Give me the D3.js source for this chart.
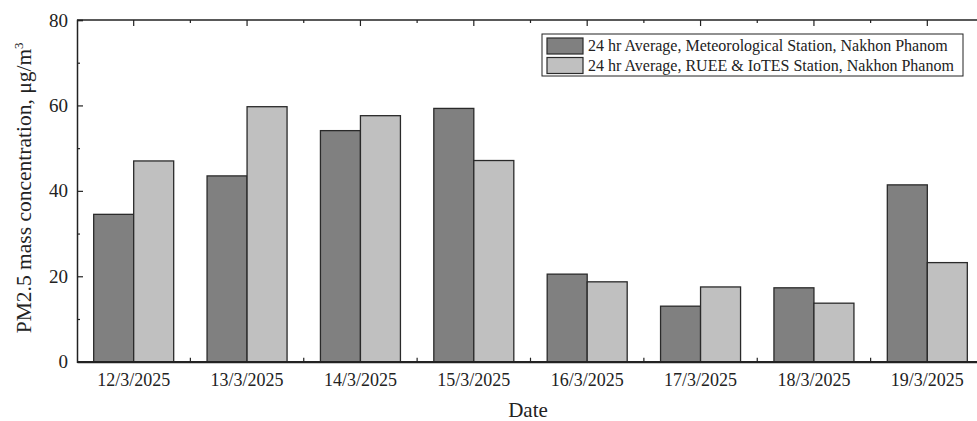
<!DOCTYPE html>
<meta charset="utf-8" />
<script src="https://d3js.org/d3.v7.min.js"></script>
<style>
  body { margin: 0; background: #fff; }
  text { font-family: "Liberation Serif", "Times New Roman", serif; fill: #222; }
</style>
<body>
<div id="chart"></div>
<script>
  // data
  const dates = ["12/3/2025", "13/3/2025", "14/3/2025", "15/3/2025",
                 "16/3/2025", "17/3/2025", "18/3/2025", "19/3/2025"];
  const seriesNames = ["24 hr Average, Meteorological Station, Nakhon Phanom",
                       "24 hr Average, RUEE & IoTES Station, Nakhon Phanom"];
  const metStation = [34.5, 43.5, 54.1, 59.3, 20.5, 13.0, 17.3, 41.4];
  const rueeStation = [47.0, 59.7, 57.6, 47.1, 18.7, 17.5, 13.7, 23.2];
  const yTicks = [0, 20, 40, 60, 80];
  const colors = ["#808080", "#c0c0c0"];

  const W = 977, H = 421;
  const margin = { top: 20, left: 77 };
  const plotW = 907, plotH = 341.7;

  const svg = d3.select("#chart").append("svg")
    .attr("width", W).attr("height", H);
  const g = svg.append("g")
    .attr("transform", "translate(" + margin.left + "," + margin.top + ")");

  const x = d3.scaleBand().domain(dates).range([0, plotW]);
  const y = d3.scaleLinear().domain([0, 80]).range([plotH, 0]);
  const barW = 40;

  // bars
  const series = [metStation, rueeStation];
  series.forEach(function (vals, s) {
    g.selectAll(".bar" + s)
      .data(vals)
      .enter()
      .append("rect")
      .attr("x", function (d, i) { return x(dates[i]) + x.bandwidth() / 2 - barW + s * barW; })
      .attr("y", function (d) { return y(d); })
      .attr("width", barW)
      .attr("height", function (d) { return plotH - y(d); })
      .attr("fill", colors[s])
      .attr("stroke", "#2a2a2a")
      .attr("stroke-width", 1.3);
  });

  // y axis (ticks inward)
  const yAxis = g.append("g")
    .call(d3.axisLeft(y).tickValues(yTicks).tickSize(-6).tickPadding(9));
  yAxis.select(".domain").attr("stroke", "#222").attr("stroke-width", 1.5);
  yAxis.selectAll("line").attr("stroke", "#222").attr("stroke-width", 1.2);
  yAxis.selectAll("text").style("font-size", "19px").attr("fill", "#222");
  g.append("g")
    .call(d3.axisLeft(y).tickValues([10, 30, 50, 70]).tickSize(-3).tickFormat(""))
    .call(function (a) { a.select(".domain").remove(); })
    .selectAll("line").attr("stroke", "#222").attr("stroke-width", 1.2);

  // bottom axis
  const mids = dates.slice(1).map(function (d) { return x(d); });
  const xAxis = g.append("g")
    .attr("transform", "translate(0," + plotH + ")")
    .call(d3.axisBottom(x).tickSize(0).tickPadding(12).tickSizeOuter(0));
  xAxis.select(".domain").attr("stroke", "#222").attr("stroke-width", 2.2);
  xAxis.selectAll("text").style("font-size", "18px").attr("fill", "#222");
  g.selectAll(".bminor").data(mids).enter().append("line")
    .attr("x1", function (d) { return d; }).attr("x2", function (d) { return d; })
    .attr("y1", plotH).attr("y2", plotH - 4)
    .attr("stroke", "#222").attr("stroke-width", 1.2);

  // top axis
  g.append("line").attr("x1", 0).attr("x2", plotW).attr("y1", 0).attr("y2", 0)
    .attr("stroke", "#222").attr("stroke-width", 1.5);
  g.selectAll(".tmajor").data(dates).enter().append("line")
    .attr("x1", function (d) { return x(d) + x.bandwidth() / 2; })
    .attr("x2", function (d) { return x(d) + x.bandwidth() / 2; })
    .attr("y1", 0).attr("y2", 6)
    .attr("stroke", "#222").attr("stroke-width", 1.2);
  g.selectAll(".tminor").data(mids).enter().append("line")
    .attr("x1", function (d) { return d; }).attr("x2", function (d) { return d; })
    .attr("y1", 0).attr("y2", 3)
    .attr("stroke", "#222").attr("stroke-width", 1.2);

  // axis titles
  svg.append("text")
    .attr("transform", "translate(31," + (margin.top + plotH / 2 - 3) + ") rotate(-90)")
    .attr("text-anchor", "middle")
    .style("font-size", "21.5px")
    .html('PM2.5 mass concentration, \u03bcg/m<tspan dy="-8" font-size="13px">3</tspan>');
  svg.append("text")
    .attr("x", 528).attr("y", 417)
    .attr("text-anchor", "middle")
    .style("font-size", "21px")
    .text("Date");

  // legend
  const lg = svg.append("g").attr("transform", "translate(542,34)");
  lg.append("rect").attr("width", 421).attr("height", 42)
    .attr("fill", "#fff").attr("stroke", "#222").attr("stroke-width", 1);
  seriesNames.forEach(function (name, i) {
    lg.append("rect")
      .attr("x", 5).attr("y", 4 + i * 19.5)
      .attr("width", 36).attr("height", 16)
      .attr("fill", colors[i]).attr("stroke", "#2a2a2a").attr("stroke-width", 1.2);
    lg.append("text")
      .attr("x", 46).attr("y", 17 + i * 19.5)
      .style("font-size", "16px")
      .text(name);
  });
</script>
</body>
